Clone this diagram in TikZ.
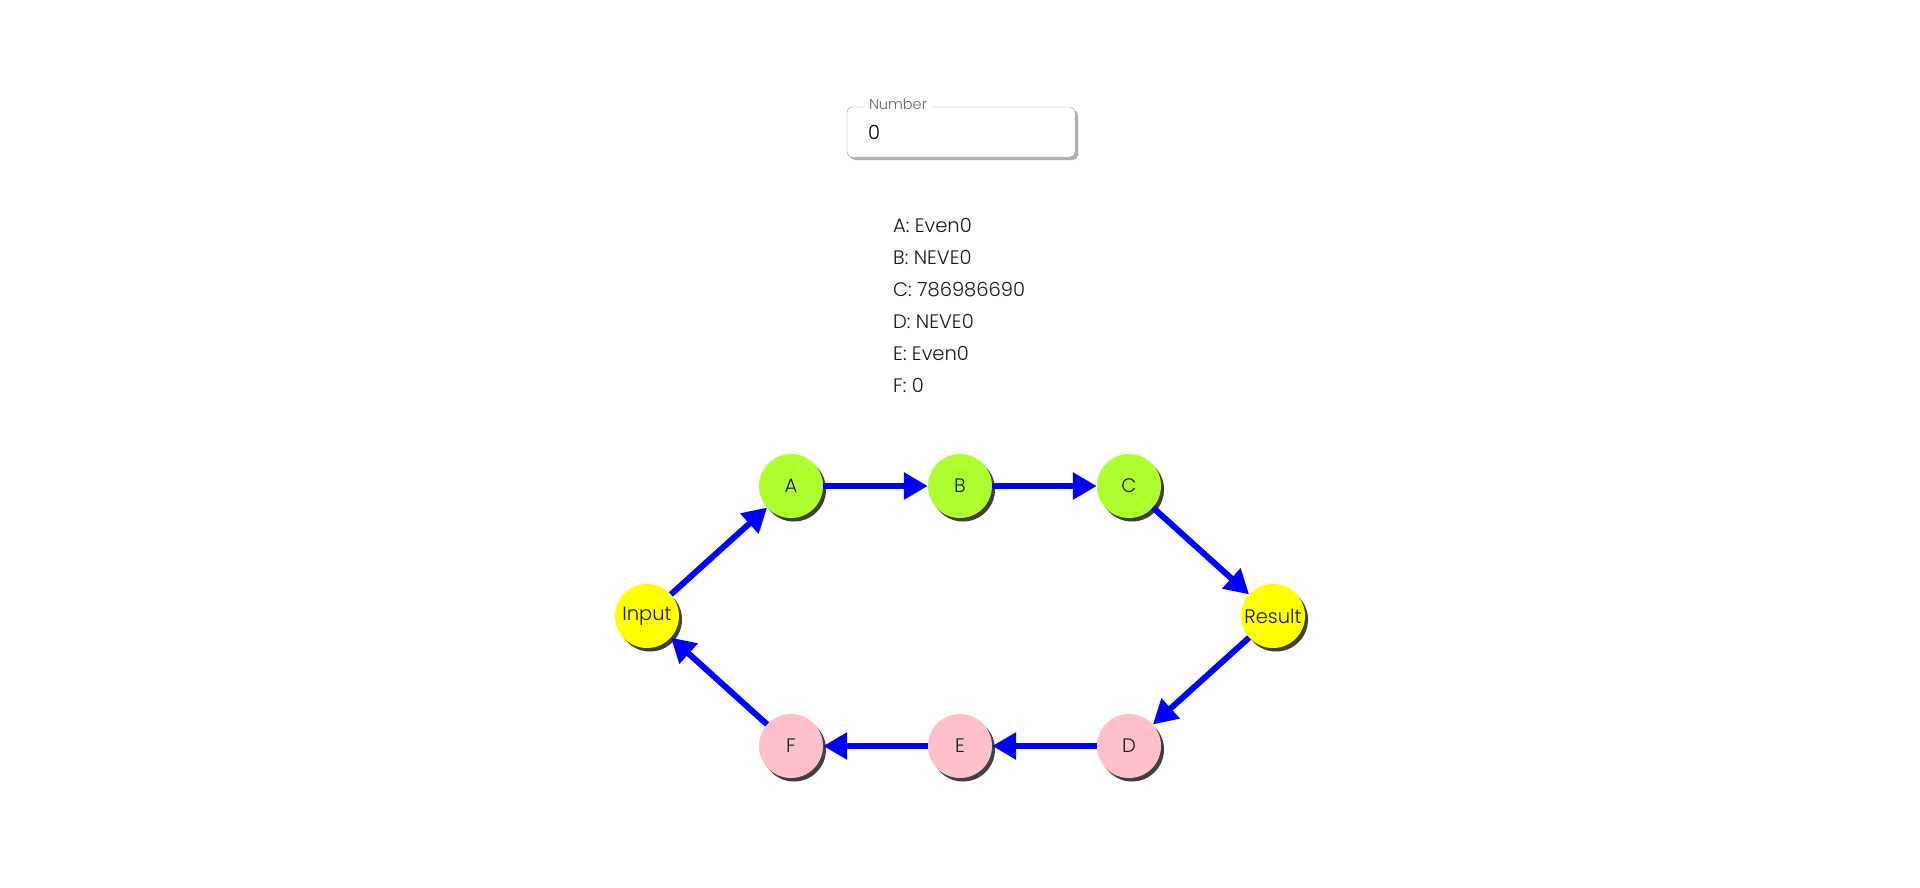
\documentclass[tikz,border=0pt]{standalone}
\usepackage{fontspec}
\setmainfont{Poppins Light}
\usetikzlibrary{arrows.meta,shadows}
\definecolor{leaf}{RGB}{173,255,47}
\definecolor{rose}{RGB}{255,192,203}
\definecolor{lemon}{RGB}{255,255,0}
\definecolor{wire}{RGB}{0,0,255}
\begin{document}
\begin{tikzpicture}[x=1pt, y=-1pt,
  every node/.style={font=\fontsize{19.5}{22}\selectfont, text=black!90, inner sep=0pt},
  vertex/.style={circle, minimum size=64pt, drop shadow={shadow xshift=3pt, shadow yshift=-3.5pt, fill=black, opacity=.75}},
  upper/.style={vertex, fill=leaf},
  lower/.style={vertex, fill=rose},
  ends/.style={vertex, fill=lemon},
  link/.style={-{Triangle[length=24pt,width=26pt]}, line width=6pt, wire},
  field/.style={draw=black!40, fill=white, rounded corners=5pt, minimum width=228pt, minimum height=50pt, drop shadow={shadow xshift=3pt, shadow yshift=-3pt, fill=black!70, opacity=.45}}]
  \useasboundingbox (0,0) rectangle (1920,887);
  % number field
  \node [field] (numbox) at (961,132) {};
  \node [fill=white, inner xsep=4pt, inner ysep=1pt, anchor=base, text=black!60, font=\fontsize{14.5}{16}\selectfont] (numlbl) at (898,109) {Number};
  \node [anchor=base west, text=black, font=\fontsize{19.5}{22}\selectfont] (numval) at (868,139) {0};
  % values
  \node [anchor=base west] (la) at (893,232) {A: Even0};
  \node [anchor=base west] (lb) at (893,264) {B: NEVE0};
  \node [anchor=base west] (lc) at (893,296) {C: 786986690};
  \node [anchor=base west] (ld) at (893,328) {D: NEVE0};
  \node [anchor=base west] (le) at (893,360) {E: Even0};
  \node [anchor=base west] (lf) at (893,392) {F: 0};
  % graph
  \node [ends] (in) at (647,616) {Input};
  \node [upper] (a) at (791,486) {A};
  \node [upper] (b) at (960,486) {B};
  \node [upper] (c) at (1129,486) {C};
  \node [ends] (res) at (1273,616) {Result};
  \node [lower] (d) at (1129,746) {D};
  \node [lower] (e) at (960,746) {E};
  \node [lower] (f) at (791,746) {F};
  \draw [link] (in) -- (a);
  \draw [link] (a) -- (b);
  \draw [link] (b) -- (c);
  \draw [link] (c) -- (res);
  \draw [link] (res) -- (d);
  \draw [link] (d) -- (e);
  \draw [link] (e) -- (f);
  \draw [link] (f) -- (in);
\end{tikzpicture}
\end{document}
